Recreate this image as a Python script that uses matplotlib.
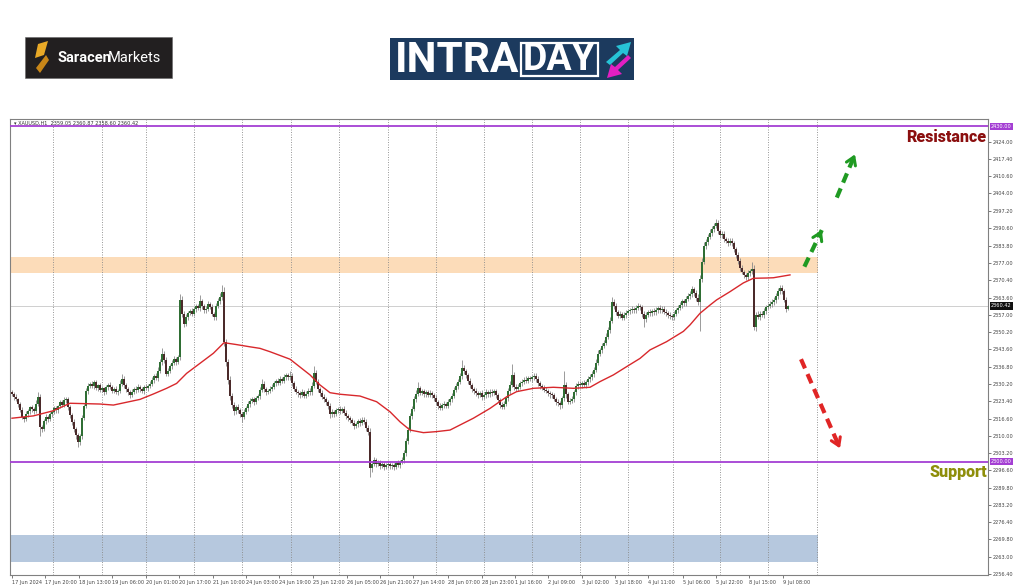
import numpy as np
import matplotlib.pyplot as plt
from matplotlib.patches import Rectangle, Polygon
from matplotlib.transforms import blended_transform_factory

# XAUUSD H1 candles, 17 Jun - 9 Jul 2024
first_open = 2326.8
closes = [
    2326.2, 2325.0, 2324.1, 2322.4, 2320.0, 2317.2, 2316.4, 2318.3, 2319.5, 2321.0,
    2320.2, 2319.6, 2322.5, 2325.1, 2313.4, 2312.8, 2315.7, 2317.2, 2316.5, 2318.4,
    2319.2, 2320.6, 2319.8, 2321.5, 2322.9, 2322.1, 2323.8, 2324.2, 2321.0, 2318.2,
    2315.4, 2312.6, 2310.1, 2307.6, 2309.8, 2316.9, 2321.5, 2327.3, 2329.4, 2330.1,
    2329.2, 2330.8, 2328.6, 2329.5, 2327.9, 2328.4, 2327.1, 2328.8, 2329.7, 2328.9,
    2327.5, 2328.2, 2326.8, 2327.4, 2330.2, 2332.1, 2329.6, 2328.0, 2326.9, 2325.8,
    2327.1, 2328.3, 2327.6, 2328.9, 2328.0, 2327.4, 2329.0, 2328.5, 2329.3, 2330.2,
    2331.5, 2333.0, 2332.4, 2335.2, 2338.6, 2341.8, 2339.5, 2334.1, 2335.3, 2337.0,
    2338.4, 2339.6, 2338.7, 2340.5, 2362.8, 2357.2, 2353.4, 2355.9, 2357.6, 2358.3,
    2357.4, 2359.1, 2360.2, 2359.5, 2362.1, 2360.4, 2358.6, 2359.3, 2361.0, 2360.1,
    2357.2, 2356.0, 2360.4, 2362.3, 2363.9, 2365.6, 2346.2, 2338.5, 2331.7, 2325.4,
    2321.8, 2319.5, 2321.2, 2319.9, 2318.6, 2317.3, 2319.4, 2320.8, 2322.3, 2323.5,
    2324.1, 2323.2, 2324.6, 2325.3, 2327.8, 2330.2, 2328.1, 2326.9, 2327.4, 2328.2,
    2329.0, 2330.3, 2331.1, 2330.6, 2332.0, 2331.4, 2332.8, 2333.5, 2332.6, 2333.2,
    2330.4, 2328.3, 2327.1, 2326.4, 2325.8, 2326.9, 2325.6, 2326.3, 2327.5, 2326.8,
    2329.4, 2334.2, 2331.0, 2328.1, 2326.5, 2325.2, 2324.1, 2323.0, 2321.6, 2318.4,
    2319.2, 2318.5, 2319.8, 2320.4, 2319.7, 2320.3, 2318.9, 2317.6, 2316.8, 2316.0,
    2315.1, 2313.8, 2314.5, 2315.6, 2314.9, 2316.2, 2315.4, 2313.1, 2311.6, 2297.3,
    2299.1, 2300.4, 2299.0, 2299.6, 2298.4, 2298.9, 2297.8, 2298.5, 2299.2, 2298.1,
    2298.6, 2297.9, 2299.3, 2298.7, 2299.8, 2300.6, 2303.4, 2307.9, 2312.2, 2317.6,
    2320.4, 2324.1, 2326.3, 2328.4, 2326.7, 2327.2, 2326.0, 2326.8, 2325.9, 2326.5,
    2325.7, 2324.6, 2322.9, 2321.4, 2320.8, 2321.9, 2322.3, 2321.6, 2323.0, 2324.1,
    2325.6, 2327.8, 2329.4, 2330.8, 2333.1, 2336.2, 2335.0, 2333.4, 2331.2, 2329.5,
    2328.0, 2327.3, 2326.5, 2325.9, 2326.4, 2325.1, 2325.8, 2326.9, 2326.2, 2327.1,
    2326.6, 2327.3, 2325.8, 2323.9, 2322.1, 2321.3, 2322.4, 2324.6, 2327.2, 2329.8,
    2333.4, 2329.0, 2328.2, 2329.1, 2330.3, 2331.0, 2331.8, 2331.4, 2332.3, 2332.0,
    2332.6, 2333.2, 2332.1, 2330.4, 2329.2, 2328.6, 2327.9, 2327.3, 2326.6, 2326.0,
    2325.7, 2324.4, 2323.1, 2322.6, 2321.8, 2324.5, 2329.8, 2326.0, 2323.2, 2323.6,
    2324.2, 2326.8, 2329.3, 2330.2, 2329.6, 2330.4, 2329.8, 2330.7, 2331.9, 2332.8,
    2333.9, 2335.6, 2338.4, 2341.9, 2343.2, 2344.8, 2346.1, 2348.5, 2350.9, 2354.6,
    2361.8, 2360.4, 2357.9, 2356.6, 2357.2, 2355.8, 2356.9, 2357.8, 2358.3, 2358.7,
    2359.2, 2358.6, 2359.7, 2360.3, 2359.8, 2357.4, 2355.3, 2356.8, 2358.1, 2357.6,
    2358.4, 2357.9, 2358.8, 2359.5, 2358.7, 2359.3, 2358.2, 2357.5, 2356.9, 2356.3,
    2356.0, 2357.4, 2358.6, 2359.7, 2360.8, 2362.1, 2361.4, 2363.0, 2364.2, 2365.1,
    2366.8, 2365.2, 2363.6, 2361.9, 2370.8, 2377.5, 2383.6, 2385.2, 2387.1, 2388.6,
    2390.2, 2391.4, 2392.6, 2389.3, 2387.8, 2388.4, 2386.2, 2385.6, 2384.9, 2385.7,
    2384.6, 2382.4, 2380.1, 2377.9, 2375.2, 2373.6, 2372.2, 2371.5, 2373.0, 2373.8,
    2374.6, 2352.3, 2357.0, 2356.2, 2357.4, 2356.8, 2358.5, 2359.9, 2360.4, 2361.2,
    2361.9, 2362.5, 2364.1, 2366.2, 2367.4, 2366.0, 2362.8, 2359.05, 2360.42,
]
# upper / lower shadow lengths beyond the body
wick_up = np.array("""
0.9 0.6 1.1 0.7 0.8 1.0 0.5 1.2 0.9 0.7  1.0 0.8 1.3 1.9 1.1 0.9 0.7 1.2 0.8 1.0
0.7 1.1 0.9 0.6 1.0 0.8 1.2 0.7 0.9 1.1  0.8 1.0 0.6 1.1 0.9 1.3 1.0 1.4 1.1 0.9
1.2 0.8 1.0 0.7 1.1 0.9 0.6 1.0 0.8 1.2  0.9 0.7 1.1 0.8 1.4 1.9 1.0 0.8 0.9 0.7
1.0 0.8 0.9 1.1 0.7 1.0 0.8 1.2 0.9 1.0  1.1 0.9 1.2 1.4 1.3 2.2 1.0 0.9 1.1 1.0
0.8 1.2 0.9 1.0 2.2 1.5 1.1 1.2 0.9 1.0  1.1 0.8 1.0 0.9 2.5 1.0 0.8 1.1 1.3 0.9
1.0 0.7 1.2 1.1 1.3 2.9 2.0 1.5 1.2 1.4  1.1 1.3 0.9 1.2 1.0 0.8 1.1 0.9 1.0 1.2
0.8 1.1 0.9 1.0 1.2 1.8 1.0 0.9 0.8 1.1  0.9 1.0 0.8 1.2 1.0 0.9 1.1 0.8 1.0 1.8
1.1 0.9 1.0 0.8 0.9 1.2 0.8 1.0 1.1 0.9  1.3 2.8 1.2 1.0 0.9 1.1 0.8 1.0 0.9 1.2
1.0 0.8 1.1 0.9 1.0 0.8 1.2 0.9 1.0 0.8  0.9 1.1 0.8 1.0 1.2 0.9 1.0 1.1 1.2 1.5
1.0 1.3 0.8 1.1 0.9 1.0 0.8 1.1 0.9 1.0  0.8 1.0 0.9 1.1 0.9 1.2 1.0 1.3 1.2 1.1
1.3 1.2 1.4 2.6 1.0 1.1 0.9 1.0 0.8 1.1  0.9 1.0 1.1 0.8 1.2 0.9 1.0 0.8 1.1 1.0
1.0 1.2 1.1 1.3 1.4 3.3 1.2 1.0 0.9 1.1  1.0 0.8 1.1 0.9 1.0 1.2 0.8 1.1 0.9 1.0
1.1 0.9 1.0 0.8 0.9 1.0 1.1 1.0 1.2 1.3  4.6 1.2 1.0 0.9 1.1 1.0 0.8 1.2 0.9 1.0
1.1 1.3 1.0 0.9 1.0 0.8 1.1 0.9 1.0 0.8  1.0 0.9 0.8 1.1 0.9 1.0 5.2 1.2 1.0 0.9
1.1 1.0 1.2 0.9 1.0 0.8 1.1 1.0 1.2 1.0  1.1 1.2 1.4 1.3 1.0 1.2 1.1 1.3 1.2 1.4
2.2 1.3 1.0 0.9 1.1 0.8 1.0 1.1 0.9 1.0  1.2 0.9 1.0 1.1 0.8 1.0 0.9 1.2 0.8 1.0
0.9 1.1 1.0 0.8 1.1 1.0 0.9 1.1 0.8 1.0  0.9 1.0 1.1 1.2 1.0 1.1 0.9 1.2 1.3 1.1
1.4 1.0 1.2 1.3 1.5 1.6 1.4 1.3 1.2 1.5  1.3 1.2 1.4 1.1 1.0 1.2 1.1 0.9 1.2 1.0
1.1 0.9 1.0 1.2 1.1 1.0 0.9 1.1 1.3 1.0  2.9 1.5 1.2 1.3 1.0 1.1 1.2 0.9 1.1 1.0
1.1 1.2 1.3 1.2 1.0 1.1 1.0 0.9 0.45
""".split(), dtype=float)
wick_dn = np.array("""
0.8 1.0 0.7 1.1 0.9 0.8 1.2 0.7 0.9 1.0  0.9 1.1 0.8 1.0 3.4 1.2 0.9 1.0 1.1 0.8
1.0 0.8 1.1 0.9 0.7 1.0 0.8 1.1 1.0 1.2  1.1 1.0 1.3 2.1 1.2 1.0 0.9 0.8 1.0 0.9
0.8 1.0 0.9 1.1 0.8 1.0 1.2 0.9 1.0 0.8  1.0 0.9 0.8 1.1 0.9 1.0 1.2 0.9 1.1 1.0
0.9 1.0 1.1 0.8 1.0 0.9 1.1 0.8 1.0 0.9  0.8 1.0 0.9 1.1 0.9 1.0 1.3 1.1 0.9 1.0
1.0 0.9 1.1 1.0 1.2 1.3 1.1 0.9 1.0 0.8  1.0 0.9 1.1 0.8 1.0 1.2 0.9 1.0 0.8 1.1
0.9 1.0 1.1 0.9 1.0 1.2 1.5 1.3 1.6 1.4  1.2 1.3 1.0 1.1 1.4 1.8 1.0 0.9 1.1 1.0
0.9 1.1 1.0 0.8 1.0 0.9 1.1 1.0 0.9 1.0  1.0 0.8 0.9 1.1 1.0 0.9 1.0 1.1 0.8 1.0
1.1 1.0 0.9 1.2 1.0 0.8 1.1 0.9 1.0 1.1  1.0 0.9 1.1 1.0 1.2 0.9 1.0 1.1 1.2 1.4
1.0 1.1 0.9 1.0 1.1 0.9 1.0 1.2 1.0 1.1  1.0 1.2 0.9 1.0 1.1 0.9 1.0 1.3 1.2 3.3
1.2 1.0 1.1 0.9 1.3 1.0 1.1 0.9 1.0 1.2  1.0 1.1 0.9 1.0 1.1 0.9 1.0 1.1 1.0 0.9
1.1 0.9 1.0 0.8 1.0 0.9 1.1 1.0 0.9 1.0  1.0 1.1 1.0 1.2 0.9 1.0 1.1 0.9 1.0 1.1
1.0 0.9 1.0 1.1 0.9 1.0 1.1 1.0 1.2 1.0  1.1 1.0 0.9 1.2 1.0 1.1 0.9 1.0 1.1 1.0
1.0 0.9 1.1 1.0 1.2 1.1 1.0 0.9 1.0 1.1  1.0 1.1 0.9 1.0 1.1 0.9 1.0 1.1 1.0 0.9
1.0 0.9 1.1 1.0 0.9 1.0 1.1 0.9 1.0 1.2  1.1 1.0 1.2 1.1 1.3 1.0 1.1 1.2 1.0 0.9
1.0 1.1 0.9 1.0 1.1 0.9 1.0 1.1 0.9 1.0  1.0 1.1 0.9 1.0 1.1 1.0 0.9 1.0 1.1 1.0
1.0 1.1 1.2 1.0 1.1 1.0 0.9 1.1 1.0 0.9  1.0 1.1 1.0 0.9 1.1 1.2 3.3 1.0 0.9 1.1
1.0 0.9 1.1 1.0 0.9 1.1 1.0 0.9 1.1 1.0  1.2 1.0 1.1 1.0 0.9 1.1 1.0 1.1 0.9 1.0
1.1 1.0 1.2 1.2 11.4 1.2 1.0 1.1 1.0 0.9  1.0 1.1 0.9 1.2 1.0 1.1 0.9 1.0 1.1 1.0
1.0 1.1 1.0 1.2 1.1 1.0 1.1 0.9 1.0 1.1  1.0 1.3 1.5 1.0 1.1 0.9 1.0 1.1 0.9 1.0
1.1 1.0 0.9 1.0 1.1 0.9 1.0 1.2 0.45
""".split(), dtype=float)

# moving average (red line), read at bar positions along the curve
ma_bar = [0, 10.7, 20.7, 29, 44, 50.7, 64, 70.7, 77.3, 82.3, 87.3, 94, 100.7, 106, 112,
          119, 124, 129, 139, 149, 154, 159, 164, 174, 182.3, 189, 194, 199, 205.7,
          212.3, 219, 230.7, 239, 247.3, 252.3, 260.7, 270.7, 280.7, 289, 294, 300.7,
          307.3, 314, 319, 327.3, 335.7, 339, 344, 349, 352.3, 359, 365.7, 370.7, 377.3,
          380.7, 389]
ma_val = [2316.8, 2317.7, 2319.7, 2322.6, 2322.3, 2321.9, 2324.1, 2326.2, 2328.4, 2330.3,
          2334.2, 2338.1, 2342.0, 2346.1, 2345.4, 2344.5, 2343.9, 2342.6, 2339.7, 2333.6,
          2329.7, 2326.7, 2326.1, 2325.4, 2323.2, 2319.3, 2315.4, 2312.2, 2311.2, 2311.6,
          2312.2, 2316.8, 2320.6, 2325.1, 2327.1, 2328.4, 2328.8, 2328.4, 2328.8, 2331.0,
          2333.6, 2336.8, 2340.0, 2343.3, 2346.5, 2350.5, 2353.0, 2357.5, 2360.7, 2362.7,
          2365.9, 2369.3, 2371.1, 2371.2, 2371.3, 2372.4]

resistance = 2430.0
support = 2300.0
last_price = 2360.42
supply_zone = (2373.1, 2379.2)
demand_zone = (2261.0, 2271.5)
zone_end = 403

price_ticks = [2424.0, 2417.4, 2410.6, 2404.0, 2397.2, 2390.6, 2383.8, 2377.0, 2370.4,
               2363.6, 2357.0, 2350.2, 2343.6, 2336.8, 2330.2, 2323.4, 2316.6, 2310.0,
               2303.2, 2296.6, 2289.8, 2283.2, 2276.4, 2269.8, 2263.0, 2256.4]
time_pos = [0, 16.5, 33.5, 50, 67, 83.5, 100.5, 117, 133.5, 150.5, 167.5, 184, 200.5,
            218, 235, 251.5, 268, 285, 301.5, 318, 335.5, 352, 368.5, 385.5]
time_labels = ['17 Jun 2024', '17 Jun 20:00', '18 Jun 13:00', '19 Jun 06:00',
               '20 Jun 01:00', '20 Jun 17:00', '21 Jun 10:00', '24 Jun 03:00',
               '24 Jun 19:00', '25 Jun 12:00', '26 Jun 05:00', '26 Jun 21:00',
               '27 Jun 14:00', '28 Jun 07:00', '28 Jun 23:00', '1 Jul 16:00',
               '2 Jul 09:00', '3 Jul 02:00', '3 Jul 18:00', '4 Jul 11:00',
               '5 Jul 06:00', '5 Jul 22:00', '8 Jul 15:00', '9 Jul 08:00']
day_lines = [20.5, 45, 67, 91, 115, 139.5, 163.5, 188, 212, 236, 260, 284, 308, 330.5,
             354, 378, 402.5]

closes = np.array(closes)
opens = np.r_[first_open, closes[:-1]]
highs = np.maximum(opens, closes) + wick_up
lows = np.minimum(opens, closes) - wick_dn
bars = np.arange(len(closes))

fig = plt.figure(figsize=(10.24, 5.87), dpi=100)

# header logos, drawn in pixel coordinates
bg = fig.add_axes([0, 0, 1, 1])
bg.set_xlim(0, 1024)
bg.set_ylim(587, 0)
bg.axis('off')
bg.add_patch(Rectangle((25, 37), 147, 41, fc='#221f20', ec='#666666', lw=0.4))
bg.add_patch(Polygon([(38, 44), (48, 41), (44, 55), (35, 58)], closed=True, fc='#e9a927'))
bg.add_patch(Polygon([(46, 55), (49, 60), (40, 73), (36, 68)], closed=True, fc='#c88618'))
bg.text(57, 58, 'Saracen', color='white', fontsize=10.5, fontweight='bold',
        family='Roboto', va='center', ha='left')
bg.text(108, 58, 'Markets', color='white', fontsize=10.5, family='Roboto',
        va='center', ha='left')

bg.add_patch(Rectangle((390, 38), 244, 42, fc='#1c3a5e'))
bg.text(395, 60, 'INTRA', color='white', fontsize=30.5, fontweight='bold',
        family='Roboto', va='center', ha='left')
bg.add_patch(Rectangle((521, 43), 77, 33, fc='none', ec='white', lw=1.6))
bg.text(559, 60, 'DAY', color='white', fontsize=27, fontweight='bold',
        family='Roboto', va='center', ha='center')
bg.add_patch(Polygon([(606, 62), (620, 50), (616, 46), (631, 42), (627, 56), (623, 53), (610, 65)],
                     closed=True, fc='#27c3d6'))
bg.add_patch(Polygon([(631, 58), (618, 70), (622, 74), (607, 78), (611, 64), (615, 67), (628, 55)],
                     closed=True, fc='#e21fc2'))

# price chart
ax = fig.add_axes([10 / 1024, 12 / 587, 978 / 1024, 456 / 587])
ax.set_xlim(-1, 488)
ax.set_ylim(2255.96, 2432.9)

ax.axhspan(*supply_zone, xmin=0, xmax=(zone_end + 1) / 489, color='#fcdcb9', lw=0, zorder=1)
ax.axhspan(*demand_zone, xmin=0, xmax=(zone_end + 1) / 489, color='#b6c8de', lw=0, zorder=1)

for d in day_lines:
    ax.axvline(d, color='#8a8a8a', lw=0.6, ls=(0, (1.2, 1.8)), zorder=2)
ax.axhline(last_price, color='#c8c8c8', lw=0.6, zorder=2)
ax.axhline(resistance, color='#a43fd3', lw=1.3, zorder=6)
ax.axhline(support, color='#a43fd3', lw=1.3, zorder=6)

ax.vlines(bars, lows, highs, color='#8a8a8a', lw=0.6, zorder=3)
up = closes >= opens
body = np.maximum(np.abs(closes - opens), 0.25)
ax.bar(bars[up], body[up], bottom=opens[up], width=0.72, color='#2f6e34', lw=0, zorder=4)
ax.bar(bars[~up], body[~up], bottom=closes[~up], width=0.72, color='#4b2a2a', lw=0, zorder=4)

ax.plot(ma_bar, ma_val, color='#d8282c', lw=1.0, zorder=5)


def dashed_arrow(start, end, color):
    ax.plot([start[0], end[0]], [start[1], end[1]], color=color, lw=3.0,
            ls=(0, (2.4, 1.5)), dash_capstyle='butt', zorder=7)
    back = (end[0] - 0.12 * (end[0] - start[0]), end[1] - 0.12 * (end[1] - start[1]))
    ax.annotate('', xy=end, xytext=back, zorder=7,
                arrowprops=dict(arrowstyle='->,head_length=0.55,head_width=0.35',
                                color=color, lw=2.2, shrinkA=0, shrinkB=0))


dashed_arrow((396.2, 2375.6), (404.9, 2389.8), '#1f9a22')
dashed_arrow((412.4, 2402.4), (421.5, 2419.2), '#1f9a22')
dashed_arrow((394.5, 2339.7), (414.0, 2305.1), '#e02525')

ytr = blended_transform_factory(ax.transAxes, ax.transData)
ax.text(0.998, 2425.9, 'Resistance', transform=ytr, ha='right', va='center',
        color='#8b0f0f', fontsize=11.5, fontweight='black', family='Roboto', zorder=8)
ax.text(0.999, 2295.9, 'Support', transform=ytr, ha='right', va='center',
        color='#8e8e0a', fontsize=11.5, fontweight='black', family='Roboto', zorder=8)

ax.text(0.004, 0.996, '\u25be XAUUSD,H1  2359.05 2360.87 2358.60 2360.42', transform=ax.transAxes,
        fontsize=3.6, va='top', ha='left', color='#333333')

# axes styling, MetaTrader-like
for s in ax.spines.values():
    s.set_color('#808080')
    s.set_linewidth(0.8)
ax.yaxis.tick_right()
ax.set_yticks(price_ticks)
ax.set_yticklabels([f'{p:.2f}' for p in price_ticks])
ax.set_xticks(time_pos)
ax.set_xticklabels(time_labels)
ax.tick_params(axis='both', labelsize=3.6, colors='#444444', length=2, width=0.5, pad=1.5)
for lbl in ax.get_xticklabels():
    lbl.set_ha('left')

for val, fc in [(resistance, '#a43fd3'), (last_price, '#111111'), (support, '#a43fd3')]:
    ax.text(1.003, val, f'{val:.2f}', transform=ytr, fontsize=3.6, color='white',
            va='center', ha='left', clip_on=False, zorder=9,
            bbox=dict(boxstyle='square,pad=0.25', fc=fc, ec='none'))

fig.savefig('out.png', dpi=100)
